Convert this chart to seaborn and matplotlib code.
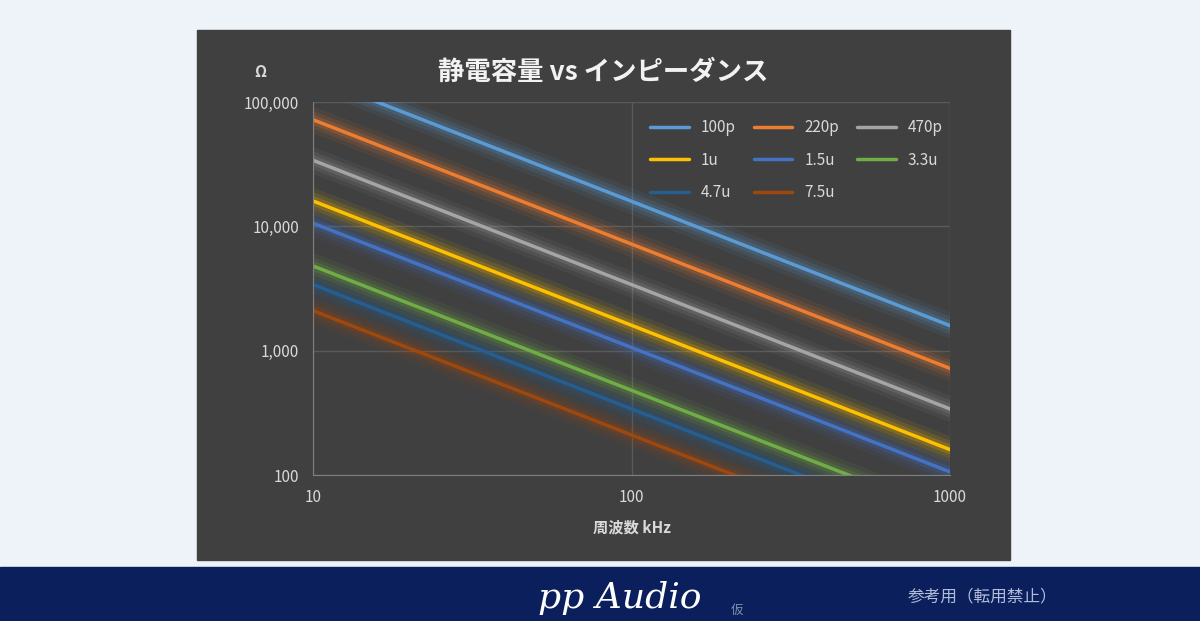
import matplotlib
matplotlib.use("Agg")
import matplotlib.pyplot as plt
import seaborn as sns
import pandas as pd
from matplotlib.ticker import FixedLocator, NullLocator

sns.set_style("dark")
plt.rcParams['font.family'] = ['Noto Sans CJK JP', 'DejaVu Sans']

freq_khz = [10, 1000]
labels = ["100p", "220p", "470p", "1u", "1.5u", "3.3u", "4.7u", "7.5u"]
imp_10 = [159000, 72000, 34000, 16000, 10600, 4800, 3400, 2100]
imp_1000 = [1590, 720, 340, 160, 106, 48, 34, 21]
colors = ["#5B9BD5", "#ED7D31", "#A5A5A5", "#FFC000",
          "#4472C4", "#70AD47", "#255E91", "#9E480E"]

rows = []
for lab, a, b in zip(labels, imp_10, imp_1000):
    rows.append({"cap": lab, "f": freq_khz[0], "z": a})
    rows.append({"cap": lab, "f": freq_khz[1], "z": b})
df = pd.DataFrame(rows)
pal = dict(zip(labels, colors))

fig = plt.figure(figsize=(12, 6.21), dpi=100)
fig.patch.set_facecolor("#EEF2F9")
# dark chart panel
fig.add_artist(plt.Rectangle((197/1200, 1-560/621), 813/1200, 530/621,
                             transform=fig.transFigure, color="#404040", zorder=0))
# bottom band
fig.add_artist(plt.Rectangle((0, 0), 1, 54/621, transform=fig.transFigure,
                             color="#0B1F5C", zorder=0))

ax = fig.add_axes([313/1200, 1-475/621, 637/1200, 373/621])
ax.set_facecolor("#404040")

# glow
for w, a in [(18, 0.08), (12, 0.12), (7, 0.18)]:
    sns.lineplot(data=df, x="f", y="z", hue="cap", palette=pal, ax=ax,
                 linewidth=w, alpha=a, legend=False)
sns.lineplot(data=df, x="f", y="z", hue="cap", palette=pal, ax=ax, linewidth=2.5)

ax.set_xscale("log")
ax.set_yscale("log")
ax.set_xlim(10, 1000)
ax.set_ylim(100, 100000)
ax.xaxis.set_major_locator(FixedLocator([10, 100, 1000]))
ax.xaxis.set_minor_locator(NullLocator())
ax.yaxis.set_major_locator(FixedLocator([100, 1000, 10000, 100000]))
ax.yaxis.set_minor_locator(NullLocator())
ax.set_xticklabels(["10", "100", "1000"])
ax.set_yticklabels(["100", "1,000", "10,000", "100,000"])
ax.tick_params(colors="#D9D9D9", labelsize=11, length=0, pad=10)
ax.grid(True, color="#5A5A5A", linewidth=1)
for s in ax.spines.values():
    s.set_visible(False)
ax.spines["bottom"].set_visible(True)
ax.spines["bottom"].set_color("#7F7F7F")
ax.spines["left"].set_visible(True)
ax.spines["left"].set_color("#7F7F7F")

ax.set_xlabel("周波数 kHz", color="#D9D9D9", fontsize=11, fontweight="bold", labelpad=10)
ax.set_ylabel("")
fig.text(260/1200, 1-72/621, "Ω", color="#D9D9D9", fontsize=11, fontweight="bold",
         ha="center", va="center")
fig.text(603/1200, 1-72/621, "静電容量 vs インピーダンス", color="#F2F2F2",
         fontsize=19, fontweight="bold", ha="center", va="center")

handles, labs = ax.get_legend_handles_labels()
order = [0, 3, 6, 1, 4, 7, 2, 5]
leg = ax.legend([handles[i] for i in order], [labs[i] for i in order],
                ncol=3, loc="upper right", frameon=False, fontsize=11,
                handlelength=2.5, columnspacing=1.2, labelspacing=1.0,
                bbox_to_anchor=(1.01, 0.99))
for t in leg.get_texts():
    t.set_color("#D9D9D9")

fig.text(620/1200, 1-598/621, "pp Audio", color="white", fontsize=26,
         style="italic", family=["DejaVu Serif"], ha="center", va="center")
fig.text(737/1200, 1-610/621, "仮", color="#8090B0", fontsize=9, ha="center", va="center")
fig.text(982/1200, 1-597/621, "参考用（転用禁止）", color="#B0BCD8", fontsize=12,
         ha="center", va="center")

fig.savefig("out.png", dpi=100)
